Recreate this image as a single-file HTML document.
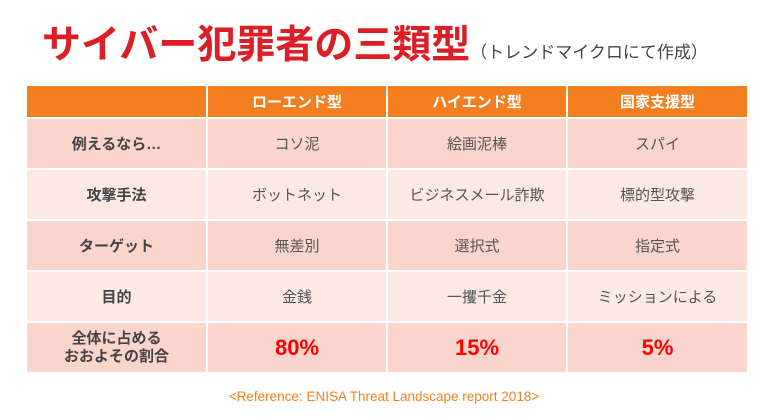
<!DOCTYPE html>
<html><head><meta charset="utf-8"><style>
body{margin:0;width:768px;height:420px;background:#fff;position:relative;overflow:hidden;font-family:"Liberation Sans","Noto Sans CJK JP",sans-serif}
h1{position:absolute;left:42px;top:14px;margin:0;font-size:39px;font-weight:bold;color:#dc1e26;white-space:nowrap}
h1 span{font-size:17px;font-weight:normal;color:#444}
table{position:absolute;left:25px;top:84px;width:722px;border-collapse:collapse;table-layout:fixed}
td,th{border:2px solid #fff;text-align:center;color:#555;font-size:15px;padding:0}
th{background:#f47f20;color:#fff;height:31px;font-size:15px}
tr.d td{background:#f9d5cb}
tr.l td{background:#fce9e4}
tr td{height:49px}
td.h{font-weight:bold;color:#444}
td.p{color:#f00;font-weight:bold;font-size:22px}
.ref{position:absolute;left:0;width:768px;top:389px;text-align:center;color:#f47f20;font-size:13.5px}
</style></head><body>
<h1>サイバー犯罪者の三類型<span>（トレンドマイクロにて作成）</span></h1>
<table>
<colgroup><col style="width:181px"><col style="width:180px"><col style="width:180px"><col style="width:181px"></colgroup>
<tr><th></th><th>ローエンド型</th><th>ハイエンド型</th><th>国家支援型</th></tr>
<tr class="d"><td class="h">例えるなら…</td><td>コソ泥</td><td>絵画泥棒</td><td>スパイ</td></tr>
<tr class="l"><td class="h">攻撃手法</td><td>ボットネット</td><td>ビジネスメール詐欺</td><td>標的型攻撃</td></tr>
<tr class="d"><td class="h">ターゲット</td><td>無差別</td><td>選択式</td><td>指定式</td></tr>
<tr class="l"><td class="h">目的</td><td>金銭</td><td>一攫千金</td><td>ミッションによる</td></tr>
<tr class="d"><td class="h" style="line-height:18px">全体に占める<br>おおよその割合</td><td class="p">80%</td><td class="p">15%</td><td class="p">5%</td></tr>
</table>
<div class="ref">&lt;Reference: ENISA Threat Landscape report 2018&gt;</div>
</body></html>
